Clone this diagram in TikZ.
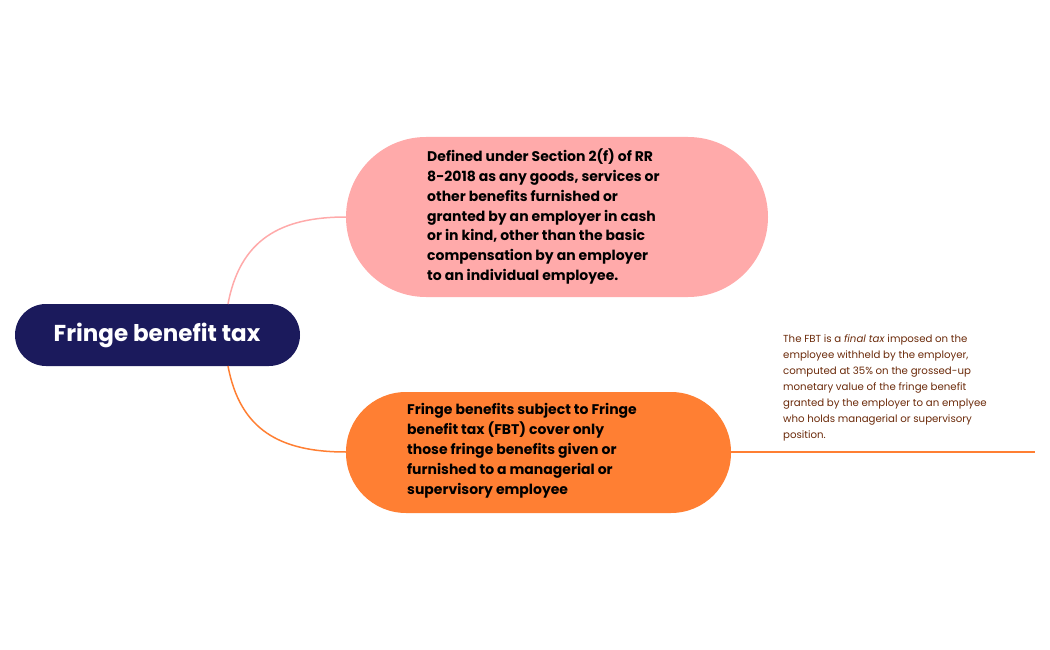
\documentclass[tikz,border=0pt]{standalone}
\usepackage{fontspec}
\setmainfont{Poppins}
\definecolor{navy}{HTML}{1B1A5C}
\definecolor{pinkc}{HTML}{FFAAAA}
\definecolor{orangec}{HTML}{FF7F33}
\definecolor{brownc}{HTML}{6B2A0A}
\begin{document}
\begin{tikzpicture}[x=1pt,y=-1pt,
  pill/.style={rounded corners=#1, inner sep=0},
  btxt/.style={anchor=north west, align=left, inner sep=0, font=\fontsize{14}{19.7}\selectfont\bfseries, text=black}]
\useasboundingbox (0,0) rectangle (1050,650);
\fill[navy, rounded corners=31] (15,304) rectangle (300,366);
\node[text=white, font=\fontsize{23}{28}\selectfont\bfseries] (root) at (157,335) {Fringe benefit tax};
\fill[pinkc, rounded corners=80] (346,137) rectangle (768,297);
\node[btxt] (a) at (427,149) {Defined under Section 2(f) of RR\\8-2018 as any goods, services or\\other benefits furnished or\\granted by an employer in cash\\or in kind, other than the basic\\compensation by an employer\\to an individual employee.};
\fill[orangec, rounded corners=60] (346,392) rectangle (731,513);
\node[btxt, font=\fontsize{14}{20}\selectfont\bfseries] (b) at (407,403) {Fringe benefits subject to Fringe\\benefit tax (FBT) cover only\\those fringe benefits given or\\furnished to a managerial or\\supervisory employee};
\coordinate (r1) at (228,304);
\coordinate (r2) at (228,366);
\coordinate (p1) at (346,217);
\coordinate (p2) at (346,452);
\coordinate (o1) at (731,452);
\coordinate (o2) at (1035,452);
\draw[pinkc, line width=1.5] (r1) .. controls (240,240) and (280,217) .. (p1);
\draw[orangec, line width=1.5] (r2) .. controls (240,430) and (280,452) .. (p2);
\draw[orangec, line width=1.2] (o1) -- (o2);
\node[anchor=north west, align=left, inner sep=0, text=brownc, font=\fontsize{10.2}{16}\selectfont] (n) at (783,335) {The FBT is a \textit{final tax} imposed on the\\employee withheld by the employer,\\computed at 35\% on the grossed-up\\monetary value of the fringe benefit\\granted by the employer to an emplyee\\who holds managerial or supervisory\\position.};
\end{tikzpicture}
\end{document}
